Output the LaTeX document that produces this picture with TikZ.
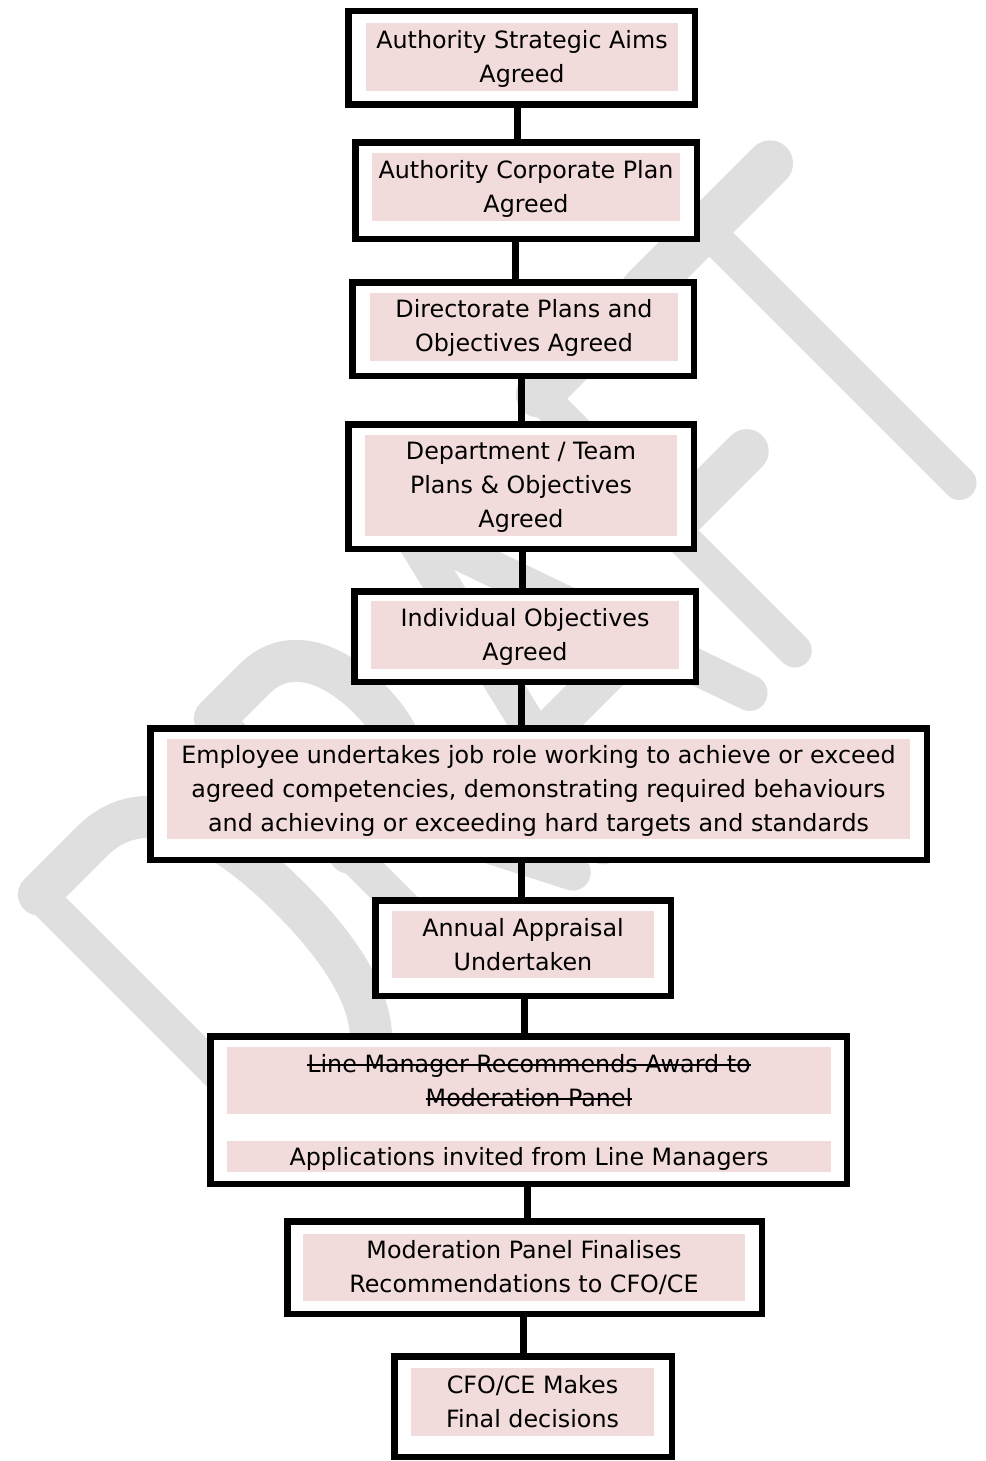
\documentclass[tikz,border=0pt]{standalone}
\usepackage{fontspec}
\setmainfont{DejaVu Sans}
\definecolor{pinkbg}{HTML}{F2DBDB}
\definecolor{wmgray}{RGB}{223,223,223}
\newcommand{\strk}[1]{\mbox{\sbox0{#1}\rlap{\rule[6.2pt]{\wd0}{1.8pt}}\usebox0}}
\begin{document}
\begin{tikzpicture}[x=1pt,y=-1pt,
  frame/.style={draw=black, line width=6.5pt, fill=white, inner sep=0pt},
  hl/.style={fill=pinkbg, inner sep=0pt},
  txt/.style={inner sep=0pt, align=center, text=black, font=\fontsize{23.8}{34}\selectfont},
  conn/.style={draw=black, line width=7pt},
  wm/.style={draw=wmgray, line cap=round, line join=round}]
\useasboundingbox (0,0) rectangle (985,1461);

% DRAFT watermark
\begin{scope}[x=1pt,y=1pt,rotate=45]
 % D
 \draw[wm,line width=34pt] (-605,-660) -- (-605,-1020);
 \draw[wm,line width=42pt] (-605,-660) -- (-530,-660) .. controls (-460,-660) and (-430,-730) .. (-430,-840) .. controls (-430,-950) and (-460,-1020) .. (-530,-1020) -- (-605,-1020);
 % R
 \draw[wm,line width=34pt] (-356,-660) -- (-356,-1020);
 \draw[wm,line width=42pt] (-356,-660) -- (-300,-660) .. controls (-255,-660) and (-233,-700) .. (-233,-755) .. controls (-233,-810) and (-255,-850) .. (-300,-850) -- (-356,-850);
 \draw[wm,line width=36pt] (-300,-850) -- (-212,-1022);
 % A
 \draw[wm,line width=36pt] (-172,-1025) -- (-85,-660) -- (40,-1020);
 \draw[wm,line width=40pt] (-143,-905) -- (0,-905);
 % F
 \draw[wm,line width=34pt] (102,-660) -- (102,-1022);
 \draw[wm,line width=46pt] (102,-660) -- (230,-660);
 \draw[wm,line width=44pt] (102,-847) -- (209,-847);
 % T
 \draw[wm,line width=46pt] (250,-660) -- (429,-660);
 \draw[wm,line width=34pt] (337,-660) -- (337,-1020);
\end{scope}

% boxes
\node[frame, minimum width=346.5pt, minimum height=93.5pt] (b1) at (521.5,58) {};
\node[hl, minimum width=312pt, minimum height=68pt] (p1) at (522,57) {};
\node[txt] (x1) at ([yshift=-2pt]p1.center) {Authority Strategic Aims\\Agreed};

\node[frame, minimum width=341.5pt, minimum height=96.5pt] (b2) at (526,190.5) {};
\node[hl, minimum width=308pt, minimum height=68pt] (p2) at (526,187) {};
\node[txt] (x2) at ([yshift=-1.5pt]p2.center) {Authority Corporate Plan\\Agreed};

\node[frame, minimum width=341.5pt, minimum height=93.5pt] (b3) at (523,329) {};
\node[hl, minimum width=308pt, minimum height=68pt] (p3) at (524,327) {};
\node[txt] (x3) at ([yshift=-1pt]p3.center) {Directorate Plans and\\Objectives Agreed};

\node[frame, minimum width=345.5pt, minimum height=124.5pt] (b4) at (521,486.5) {};
\node[hl, minimum width=312pt, minimum height=101pt] (p4) at (521,485.5) {};
\node[txt] (x4) at ([yshift=-2pt]p4.center) {Department / Team\\Plans \& Objectives\\Agreed};

\node[frame, minimum width=341.5pt, minimum height=90.5pt] (b5) at (525,636.5) {};
\node[hl, minimum width=308pt, minimum height=68pt] (p5) at (525,635) {};
\node[txt] (x5) at ([yshift=-2pt]p5.center) {Individual Objectives\\Agreed};

\node[frame, minimum width=776.5pt, minimum height=131.5pt] (b6) at (538.5,794) {};
\node[hl, minimum width=743pt, minimum height=100pt] (p6) at (538.5,789) {};
\node[txt] (x6) at ([yshift=-2pt]p6.center) {Employee undertakes job role working to achieve or exceed\\agreed competencies, demonstrating required behaviours\\and achieving or exceeding hard targets and standards};

\node[frame, minimum width=295.5pt, minimum height=95.5pt] (b7) at (523,948) {};
\node[hl, minimum width=262pt, minimum height=67pt] (p7) at (523,944.5) {};
\node[txt] (x7) at (p7.center) {Annual Appraisal\\Undertaken};

\node[frame, minimum width=636.5pt, minimum height=147.5pt] (b8) at (528.5,1110) {};
\node[hl, minimum width=604pt, minimum height=67pt] (p8a) at (529,1080.5) {};
\node[txt] (x8a) at (p8a.center) {\strk{Line Manager Recommends Award to}\\\strk{Moderation Panel}};
\node[hl, minimum width=604pt, minimum height=31pt] (p8b) at (529,1156.5) {};
\node[txt] (x8b) at ([yshift=-2pt]p8b.center) {Applications invited from Line Managers};

\node[frame, minimum width=474.5pt, minimum height=92.5pt] (b9) at (524.5,1267.5) {};
\node[hl, minimum width=442pt, minimum height=67pt] (p9) at (524,1267.5) {};
\node[txt] (x9) at (p9.center) {Moderation Panel Finalises\\Recommendations to CFO/CE};

\node[frame, minimum width=277.5pt, minimum height=100.5pt] (b10) at (533,1406.5) {};
\node[hl, minimum width=243pt, minimum height=68pt] (p10) at (532.5,1402) {};
\node[txt] (x10) at (p10.center) {CFO/CE Makes\\Final decisions};

% connectors
\draw[conn] ([xshift=-4pt]b1.south) -- ([xshift=-4pt]b1.south |- b2.north);
\draw[conn] ([xshift=-11pt]b2.south) -- ([xshift=-11pt]b2.south |- b3.north);
\draw[conn] ([xshift=-2pt]b3.south) -- ([xshift=-2pt]b3.south |- b4.north);
\draw[conn] ([xshift=1pt]b4.south) -- ([xshift=1pt]b4.south |- b5.north);
\draw[conn] ([xshift=-4pt]b5.south) -- ([xshift=-4pt]b5.south |- b6.north);
\draw[conn] ([xshift=-17.5pt]b6.south) -- ([xshift=-17.5pt]b6.south |- b7.north);
\draw[conn] ([xshift=1pt]b7.south) -- ([xshift=1pt]b7.south |- b8.north);
\draw[conn] ([xshift=-1.5pt]b8.south) -- ([xshift=-1.5pt]b8.south |- b9.north);
\draw[conn] ([xshift=-1pt]b9.south) -- ([xshift=-1pt]b9.south |- b10.north);
\end{tikzpicture}
\end{document}
